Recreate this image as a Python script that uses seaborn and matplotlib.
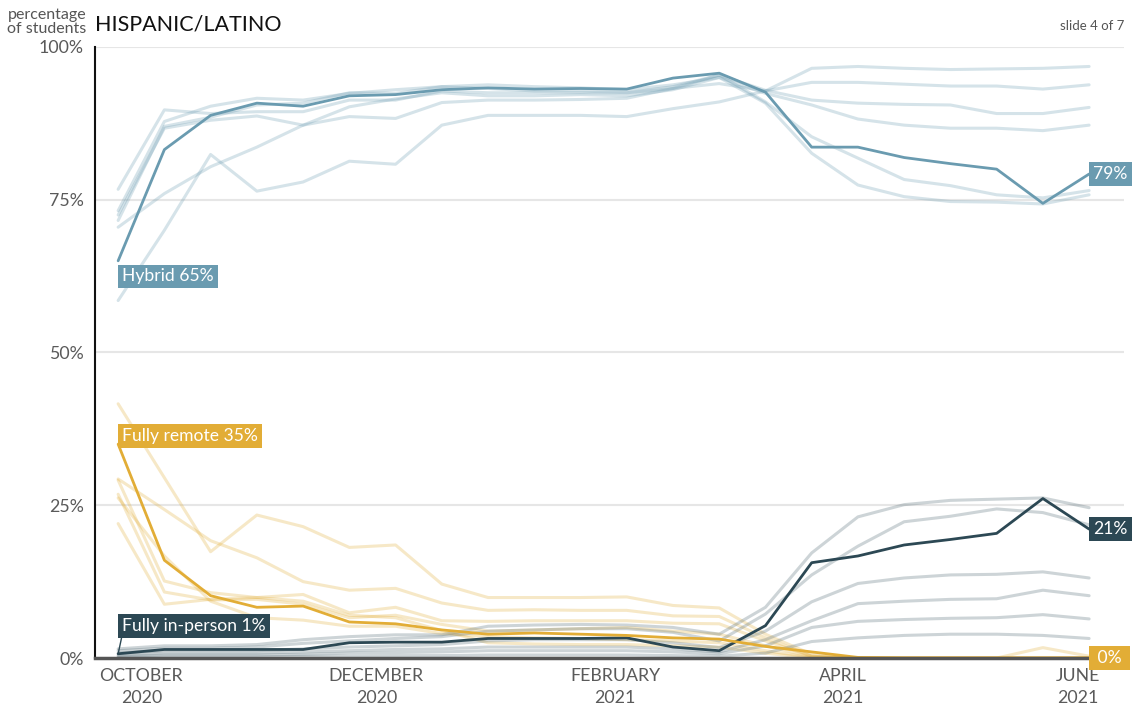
import pandas as pd
import matplotlib.pyplot as plt
import seaborn as sns

# survey dates (roughly every 12 days)
dates = ['2020-09-25', '2020-10-07', '2020-10-19', '2020-10-31', '2020-11-12', '2020-11-24',
         '2020-12-06', '2020-12-18', '2020-12-30', '2021-01-11', '2021-01-23', '2021-02-04',
         '2021-02-16', '2021-02-28', '2021-03-12', '2021-03-24', '2021-04-05', '2021-04-17',
         '2021-04-29', '2021-05-11', '2021-05-23', '2021-06-04']

# Hispanic/Latino students (highlighted)
hybrid = [65, 83.2, 88.8, 90.8, 90.3, 92.0, 92.2, 93.0, 93.3, 93.1, 93.2, 93.1,
          94.9, 95.7, 92.6, 83.6, 83.6, 81.9, 80.9, 80.0, 74.4, 79.2]
remote = [35, 16.0, 10.2, 8.3, 8.5, 5.9, 5.6, 4.6, 3.9, 4.1, 3.9, 3.7,
          3.3, 3.1, 1.9, 1.0, 0.1, 0, 0, 0, 0, 0]
in_person = [0.7, 1.4, 1.4, 1.4, 1.4, 2.5, 2.6, 2.6, 3.2, 3.2, 3.2, 3.3,
             1.8, 1.2, 5.3, 15.6, 16.7, 18.5, 19.4, 20.4, 26.1, 21.1]

# the other six groups (shown faded)
hybrid_others = [
    [58.5, 70.0, 82.4, 76.4, 77.9, 81.3, 80.8, 87.2, 88.8, 88.8, 88.8, 88.6, 89.9, 91.0, 92.8, 96.5, 96.8, 96.5, 96.3, 96.4, 96.5, 96.8],
    [72.5, 86.7, 88.0, 88.7, 87.2, 88.6, 88.3, 90.9, 91.3, 91.3, 91.4, 91.6, 93.2, 94.0, 92.8, 94.2, 94.2, 93.9, 93.6, 93.6, 93.1, 93.8],
    [70.5, 76.0, 80.4, 83.6, 87.2, 90.2, 91.5, 92.5, 92.0, 92.0, 92.2, 92.0, 93.0, 95.0, 92.4, 90.5, 88.2, 87.2, 86.7, 86.7, 86.3, 87.2],
    [76.7, 89.7, 89.1, 89.4, 89.4, 91.3, 91.3, 92.8, 92.5, 92.5, 92.5, 92.5, 93.2, 95.4, 92.9, 91.3, 90.8, 90.6, 90.5, 89.1, 89.1, 90.1],
    [73.2, 87.8, 90.3, 91.6, 91.3, 92.4, 93.0, 93.5, 93.2, 92.8, 92.8, 92.5, 93.5, 95.4, 91.0, 85.3, 81.8, 78.3, 77.3, 75.8, 75.3, 76.5],
    [71.6, 87.0, 88.5, 90.5, 90.8, 92.5, 92.4, 93.5, 93.8, 93.5, 93.3, 93.0, 93.8, 95.0, 90.8, 82.6, 77.4, 75.5, 74.7, 74.6, 74.3, 75.8],
]
remote_others = [
    [41.6, 29.5, 17.4, 23.4, 21.5, 18.1, 18.5, 12.1, 9.9, 9.9, 9.9, 10.0, 8.6, 8.2, 3.9, 0.6, 0, 0, 0, 0, 0, 0],
    [29.3, 24.3, 19.2, 16.4, 12.5, 11.1, 11.4, 9.0, 7.8, 7.9, 7.8, 7.8, 6.9, 6.8, 3.3, 0.3, 0, 0, 0, 0, 0, 0],
    [29.1, 12.6, 10.7, 9.9, 10.4, 7.4, 8.3, 6.1, 6.0, 6.1, 6.1, 6.1, 5.7, 5.6, 2.8, 0.3, 0, 0, 0, 0, 0, 0],
    [26.8, 10.8, 9.5, 9.6, 8.8, 6.6, 7.0, 5.5, 4.4, 4.6, 4.8, 5.0, 4.4, 3.9, 2.0, 0.2, 0, 0, 0, 0, 1.7, 0.3],
    [26.2, 16.7, 9.3, 6.6, 6.2, 5.2, 5.2, 4.0, 3.5, 3.3, 3.2, 3.0, 2.8, 2.5, 1.2, 0.1, 0, 0, 0, 0, 0, 0],
    [22.0, 8.8, 9.6, 9.9, 9.3, 7.0, 6.6, 4.5, 2.5, 2.3, 2.2, 2.2, 2.0, 1.8, 0.8, 0, 0, 0, 0, 0, 0, 0],
]
in_person_others = [
    [1.5, 2.0, 2.0, 2.2, 3.0, 3.5, 3.8, 3.8, 5.2, 5.4, 5.5, 5.4, 5.0, 3.9, 8.3, 17.2, 23.1, 25.1, 25.8, 26.0, 26.2, 24.6],
    [1.2, 1.6, 1.6, 1.8, 2.4, 2.8, 3.2, 3.5, 4.4, 4.6, 4.8, 4.8, 4.2, 2.8, 7.2, 13.6, 18.3, 22.3, 23.2, 24.4, 23.8, 21.8],
    [0.8, 1.2, 1.2, 1.2, 1.5, 1.8, 2.0, 2.2, 2.8, 3.0, 3.0, 3.0, 2.5, 1.7, 4.4, 9.2, 12.2, 13.1, 13.6, 13.7, 14.1, 13.1],
    [0.5, 0.8, 0.8, 0.8, 1.0, 1.2, 1.4, 1.5, 1.8, 1.8, 1.8, 1.8, 1.5, 1.0, 3.0, 6.1, 8.9, 9.3, 9.6, 9.7, 11.1, 10.2],
    [0.3, 0.5, 0.5, 0.5, 0.6, 0.8, 0.9, 1.0, 1.2, 1.2, 1.2, 1.2, 1.0, 0.7, 2.0, 5.0, 6.0, 6.3, 6.5, 6.6, 7.1, 6.4],
    [0.1, 0.2, 0.2, 0.2, 0.3, 0.3, 0.4, 0.4, 0.5, 0.5, 0.5, 0.5, 0.4, 0.3, 0.8, 2.7, 3.3, 3.7, 3.9, 3.9, 3.7, 3.2],
]

tick_dates = ['2020-10-01', '2020-12-01', '2021-02-01', '2021-04-01', '2021-06-01']
tick_labels = ['OCTOBER\n2020', 'DECEMBER\n2020', 'FEBRUARY\n2021', 'APRIL\n2021', 'JUNE\n2021']

colors = {'Hybrid': '#6a9bb0', 'Fully remote': '#e2ad36', 'Fully in-person': '#2c4854'}
faded = {'Hybrid': '#6a9bb0', 'Fully remote': '#e2ad36', 'Fully in-person': '#4d6670'}

# build long tables for seaborn
rows = []
for mode, groups in [('Hybrid', hybrid_others), ('Fully remote', remote_others),
                     ('Fully in-person', in_person_others)]:
    for i, vals in enumerate(groups):
        for d, v in zip(dates, vals):
            rows.append({'date': d, 'pct': v, 'mode': mode, 'group': f'{mode} {i}'})
bg = pd.DataFrame(rows)
bg['date'] = pd.to_datetime(bg['date'])

main = pd.concat([
    pd.DataFrame({'date': dates, 'pct': hybrid, 'mode': 'Hybrid'}),
    pd.DataFrame({'date': dates, 'pct': in_person, 'mode': 'Fully in-person'}),
    pd.DataFrame({'date': dates, 'pct': remote, 'mode': 'Fully remote'}),
])
main['date'] = pd.to_datetime(main['date'])

sns.set_style('white')
plt.rcParams['font.family'] = ['Lato', 'DejaVu Sans']

fig = plt.figure(figsize=(11.34, 7.11), dpi=100)
ax = fig.add_axes([0.0838, 0.0745, 0.9072, 0.8595])

sns.lineplot(data=bg, x='date', y='pct', hue='mode', units='group', estimator=None,
             palette=faded, alpha=0.28, lw=2.2, legend=False, ax=ax)
sns.lineplot(data=main, x='date', y='pct', hue='mode', palette=colors,
             lw=2.0, legend=False, ax=ax)

ax.set_ylim(0, 100)
ax.set_xlim(pd.Timestamp('2020-09-19'), pd.Timestamp('2021-06-13'))
ax.set_yticks([0, 25, 50, 75, 100])
ax.set_yticklabels(['0%', '25%', '50%', '75%', '100%'])
ax.set_xticks(pd.to_datetime(tick_dates))
ax.set_xticklabels(tick_labels, linespacing=1.45)
ax.tick_params(length=0, labelsize=12.8, labelcolor='#5a5a5a')
ax.tick_params(axis='y', pad=8)
ax.tick_params(axis='x', pad=7)
ax.set_xlabel('')
ax.set_ylabel('')

for y in [25, 50, 75, 100]:
    ax.axhline(y, color='#e6e6e6', lw=1.5, zorder=0)
for s in ['top', 'right']:
    ax.spines[s].set_visible(False)
ax.spines['left'].set_color('#111111')
ax.spines['left'].set_linewidth(1.5)
ax.spines['bottom'].set_color('#555555')
ax.spines['bottom'].set_linewidth(2.5)

box = dict(boxstyle='square,pad=0.22', ec='none')
fs = 12.6
d0 = pd.Timestamp(dates[0])
d1 = pd.Timestamp(dates[-1])
ax.annotate(f'Hybrid {hybrid[0]:.0f}%', (d0, hybrid[0]), xytext=(3, -5.5), textcoords='offset points',
            ha='left', va='top', fontsize=fs, color='white', bbox={**box, 'fc': colors['Hybrid']})
ax.annotate(f'Fully remote {remote[0]:.0f}%', (d0, remote[0]), xytext=(3, 0), textcoords='offset points',
            ha='left', va='bottom', fontsize=fs, color='white', bbox={**box, 'fc': colors['Fully remote']})
ax.annotate(f'Fully in-person {in_person[0]:.0f}%', (d0, in_person[0]), xytext=(3, 14), textcoords='offset points',
            ha='left', va='bottom', fontsize=fs, color='white', bbox={**box, 'fc': colors['Fully in-person']},
            arrowprops=dict(arrowstyle='-', color=colors['Fully in-person'], lw=1,
                            relpos=(0, 0), shrinkA=0, shrinkB=0))
for vals, mode in [(hybrid, 'Hybrid'), (in_person, 'Fully in-person'), (remote, 'Fully remote')]:
    label = f'{vals[-1]:.0f}%'
    if len(label) < 3:
        label = f' {label} '
    ax.annotate(label, (d1, vals[-1]), xytext=(3, 0), textcoords='offset points',
                ha='left', va='center', fontsize=fs, color='white', bbox={**box, 'fc': colors[mode]},
                annotation_clip=False)

fig.text(0.084, 0.966, 'HISPANIC/LATINO', fontsize=15.5, color='#111111', ha='left', va='center')
fig.text(0.076, 0.969, 'percentage\nof students', fontsize=11.5, color='#555555', ha='right', va='center',
         linespacing=0.95)
fig.text(0.991, 0.964, 'slide 4 of 7', fontsize=9.5, color='#555555', ha='right', va='center')

fig.savefig('out.png', dpi=100)
